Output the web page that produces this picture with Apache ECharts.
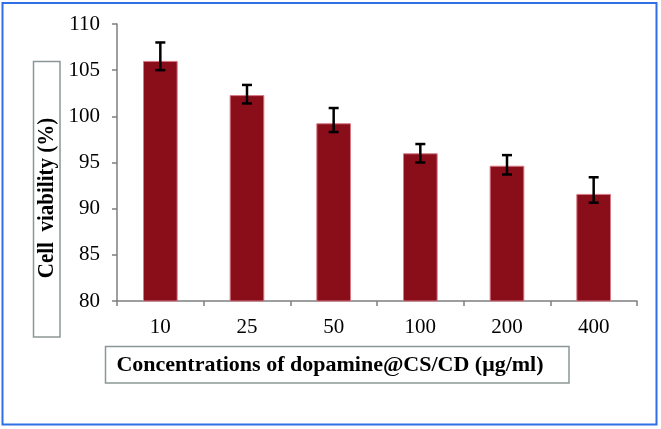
<!DOCTYPE html>
<html>
<head>
<meta charset="utf-8">
<script src="https://cdn.jsdelivr.net/npm/echarts@6/dist/echarts.min.js"></script>
<style>
html,body{margin:0;padding:0;background:#fff;}
#c{width:661px;height:429px;}
</style>
</head>
<body>
<div id="c"></div>
<script>
var categories = ['10', '25', '50', '100', '200', '400'];
var viability = [106.0, 102.3, 99.25, 96.0, 94.65, 91.6];
var errLow = [105.0, 101.4, 98.3, 95.0, 93.7, 90.65];
var errHigh = [108.0, 103.4, 100.9, 97.0, 95.8, 93.4];
var yTitle = 'Cell  viability (%)';
var xTitle = 'Concentrations of dopamine@CS/CD (\u03bcg/ml)';

var errData = categories.map(function (c, i) { return [i, errLow[i], errHigh[i]]; });
var serif = '"Liberation Serif", "Times New Roman", serif';

var chart = echarts.init(document.getElementById('c'), null, {renderer: 'canvas'});
chart.setOption({
  animation: false,
  backgroundColor: '#ffffff',
  grid: {left: 117, right: 24, top: 24, bottom: 128},
  xAxis: {
    type: 'category',
    data: categories,
    axisLine: {lineStyle: {color: '#7f7f7f', width: 1.5}},
    axisTick: {show: true, length: 5, lineStyle: {color: '#7f7f7f', width: 1.5}},
    axisLabel: {color: '#000', fontFamily: serif, fontSize: 21, margin: 16}
  },
  yAxis: {
    type: 'value',
    min: 80, max: 110, interval: 5,
    axisLine: {show: true, lineStyle: {color: '#7f7f7f', width: 1.5}},
    axisTick: {show: true, length: 5, lineStyle: {color: '#7f7f7f', width: 1.5}},
    splitLine: {show: false},
    axisLabel: {color: '#000', fontFamily: serif, fontSize: 21, margin: 17}
  },
  series: [
    {
      type: 'bar',
      data: viability,
      barWidth: '40%',
      itemStyle: {color: '#8a0d1a', borderColor: '#d77a86', borderWidth: 1}
    },
    {
      type: 'custom',
      data: errData,
      z: 5,
      renderItem: function (params, api) {
        var x = api.value(0);
        var lo = api.coord([x, api.value(1)]);
        var hi = api.coord([x, api.value(2)]);
        var hw = 5;
        var st = {stroke: '#000', lineWidth: 2.5};
        return {
          type: 'group',
          children: [
            {type: 'line', shape: {x1: lo[0], y1: lo[1], x2: hi[0], y2: hi[1]}, style: st},
            {type: 'line', shape: {x1: lo[0] - hw, y1: lo[1], x2: lo[0] + hw, y2: lo[1]}, style: st},
            {type: 'line', shape: {x1: hi[0] - hw, y1: hi[1], x2: hi[0] + hw, y2: hi[1]}, style: st}
          ]
        };
      }
    }
  ],
  graphic: [
    {type: 'rect', shape: {x: 2.5, y: 3, width: 654, height: 421.5},
     style: {fill: 'none', stroke: '#2f6fe6', lineWidth: 2}},
    {type: 'rect', shape: {x: 33.5, y: 61.5, width: 26.5, height: 275.5},
     style: {fill: '#fff', stroke: '#8c9696', lineWidth: 1.5}},
    {type: 'text', x: 47.5, y: 198, rotation: Math.PI / 2, scaleY: 1.1,
     style: {text: yTitle, fill: '#000', font: 'bold 21px ' + serif, align: 'center', verticalAlign: 'middle'}},
    {type: 'rect', shape: {x: 105.5, y: 346.5, width: 463.5, height: 36.5},
     style: {fill: '#fff', stroke: '#8c9696', lineWidth: 1.5}},
    {type: 'text', x: 330, y: 365,
     style: {text: xTitle, fill: '#000', font: 'bold 22px ' + serif, align: 'center', verticalAlign: 'middle'}}
  ]
});
</script>
</body>
</html>
